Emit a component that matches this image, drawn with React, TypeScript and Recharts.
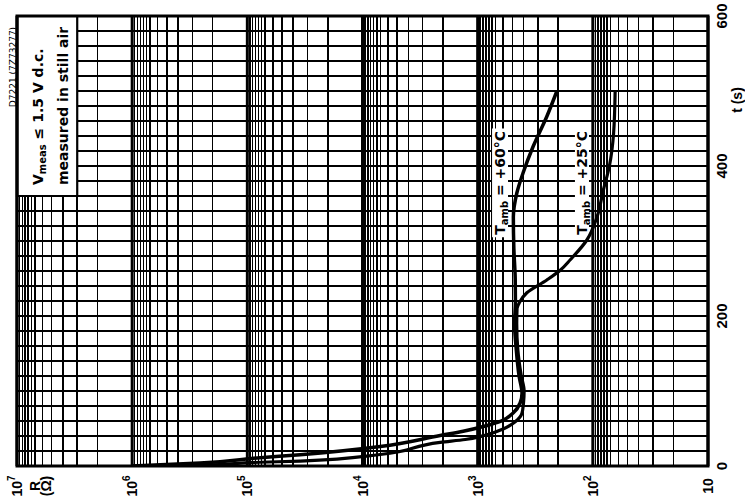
import React from 'react';
import {
  LineChart,
  Line,
  XAxis,
  YAxis,
  CartesianGrid,
  ReferenceArea,
  ReferenceLine,
} from 'recharts';

// ---- axis / grid definitions ----
const decadeValues = [10, 100, 1000, 10000, 100000, 1000000, 10000000];
const gridMantissas = [1, 2, 3, 4, 5, 6, 7, 7.5, 8, 8.5, 9, 9.5];
const timeGridTicks = [
  0, 20, 40, 60, 80, 100, 120, 140, 160, 180, 200, 220, 240, 260, 280, 300,
  320, 340, 360, 380, 400, 420, 440, 460, 480, 500, 520, 540, 560, 580, 600,
];
const timeLabelTicks = [0, 200, 400, 600];

// ---- curves: t (s) vs R (ohm) ----
const t60 = [0, 4, 11, 15, 26, 40.7, 46.3, 52.7, 60.3, 70.7, 84, 97, 120, 155, 190, 220, 250, 290, 332, 364, 391, 426, 466, 500];
const r60 = [1000000, 257000, 77300, 34800, 7020, 2115, 1336, 895, 619, 492, 428, 412, 437, 462, 478, 470, 472, 485, 490, 457, 403, 330, 251, 205];

const t25 = [0, 0.8, 5, 6.5, 15.3, 31.6, 35.3, 41, 49.3, 59, 70, 84, 100, 120, 155, 190, 210, 219, 231, 248, 261, 275, 301, 332, 368, 399, 444, 500];
const r25 = [1000000, 257000, 77300, 34800, 7020, 2115, 1283, 861, 601, 472, 413, 400, 395, 418, 448, 458, 455, 430, 374, 251, 192, 157, 113, 92, 81, 72, 66, 64];

const series60 = t60.map((t, i) => ({ t, R: r60[i] }));
const series25 = t25.map((t, i) => ({ t, R: r25[i] }));

const rGridTicks: number[] = [];
decadeValues.slice(0, 6).forEach((d) => {
  gridMantissas.forEach((m) => rGridTicks.push(Math.round(d * m * 10) / 10));
});
rGridTicks.push(10000000);

const NUM_FONT = "'Liberation Sans', Arial, sans-serif";
const TXT_FONT = "'DejaVu Sans', sans-serif";

const isDecade = (v: number) => {
  const e = Math.round(Math.log10(v));
  return Math.abs(v - Math.pow(10, e)) < 1e-6 * v;
};

const RTick = (props: any) => {
  const { x, y, payload } = props;
  const v = payload.value;
  if (!isDecade(v)) return <g />;
  const e = Math.round(Math.log10(v));
  const cy = y + 20;
  return (
    <text
      x={x}
      y={cy}
      transform={`rotate(-90 ${x} ${cy})`}
      textAnchor="middle"
      dominantBaseline="central"
      fontSize={14}
      fontWeight="bold"
      fontFamily={NUM_FONT}
      fill="#000"
    >
      10
      {e > 1 ? (
        <tspan dy={-6} fontSize={10}>
          {e}
        </tspan>
      ) : null}
    </text>
  );
};

const TTick = (props: any) => {
  const { x, y, payload } = props;
  if (!timeLabelTicks.includes(payload.value)) return <g />;
  const cx = x + 13;
  return (
    <text
      x={cx}
      y={y}
      transform={`rotate(-90 ${cx} ${y})`}
      textAnchor="middle"
      dominantBaseline="central"
      fontSize={15}
      fontWeight="bold"
      fontFamily={NUM_FONT}
      fill="#000"
    >
      {payload.value}
    </text>
  );
};

const LegendContent = (props: any) => {
  const { x, y, height } = props.viewBox;
  const by = y + height - 11;
  const l1 = x + 21;
  const l2 = x + 46;
  const dx = x - 4;
  const dy = y + 51;
  return (
    <g fill="#000" fontFamily={TXT_FONT}>
      <text x={l1} y={by} transform={`rotate(-90 ${l1} ${by})`} fontSize={14} fontWeight="bold" dominantBaseline="central">
        V<tspan fontSize={10} dy={4}>meas</tspan>
        <tspan dy={-4}> ≤ 1.5 V d.c.</tspan>
      </text>
      <text x={l2} y={by} transform={`rotate(-90 ${l2} ${by})`} fontSize={14} fontWeight="bold" dominantBaseline="central">
        measured in still air
      </text>
      <text x={dx} y={dy} transform={`rotate(-90 ${dx} ${dy})`} fontSize={9} textAnchor="middle" dominantBaseline="central">
        D7221 (7Z73277)
      </text>
    </g>
  );
};

const makeCurveLabel = (temp: string) => (props: any) => {
  const { x, y, width, height } = props.viewBox;
  const cx = x + width / 2;
  const cy = y + height / 2;
  return (
    <text
      x={cx}
      y={cy}
      transform={`rotate(-90 ${cx} ${cy})`}
      textAnchor="middle"
      dominantBaseline="central"
      fontSize={14}
      fontWeight="bold"
      fontFamily={TXT_FONT}
      fill="#000"
    >
      T<tspan fontSize={10} dy={4}>amb</tspan>
      <tspan dy={-4}> = +{temp}°C</tspan>
    </text>
  );
};

const FrameContent = (props: any) => {
  const { x, y, width, height } = props.viewBox;
  const tx = x + width + 29;
  const ty = y + 84;
  const ry = y + height + 20;
  const rx1 = 35;
  const rx2 = 46;
  return (
    <g fill="#000" fontFamily={NUM_FONT} fontSize={14} fontWeight="bold">
      <text x={tx} y={ty} transform={`rotate(-90 ${tx} ${ty})`} textAnchor="middle" dominantBaseline="central">
        t (s)
      </text>
      <text x={rx1} y={ry} transform={`rotate(-90 ${rx1} ${ry})`} textAnchor="middle" dominantBaseline="central">
        R
      </text>
      <text x={rx2} y={ry} transform={`rotate(-90 ${rx2} ${ry})`} textAnchor="middle" dominantBaseline="central">
        (Ω)
      </text>
    </g>
  );
};

export default function App() {
  return (
    <div style={{ position: 'absolute', left: 0, top: 0, width: 745, height: 503, background: '#fff' }}>
      <LineChart width={745} height={503} margin={{ top: 16, right: 0, bottom: 0, left: 17 }}>
        <CartesianGrid stroke="#000" strokeWidth={1.5} shapeRendering="crispEdges" />
        <XAxis
          type="number"
          dataKey="R"
          scale="log"
          domain={[10, 10000000]}
          reversed
          allowDataOverflow
          ticks={rGridTicks}
          interval={0}
          tickLine={false}
          axisLine={false}
          tickSize={0}
          tickMargin={0}
          height={37}
          tick={RTick}
        />
        <YAxis
          orientation="right"
          type="number"
          domain={[0, 600]}
          allowDataOverflow
          ticks={timeGridTicks}
          interval={0}
          tickLine={false}
          axisLine={false}
          tickSize={0}
          tickMargin={0}
          width={37}
          tick={TTick}
        />
        {decadeValues.map((d) => (
          <ReferenceLine key={d} x={d} stroke="#000" strokeWidth={3} />
        ))}
        <ReferenceArea
          x1={10000000}
          x2={3000000}
          y1={360}
          y2={600}
          fill="#fff"
          fillOpacity={1}
          stroke="#000"
          strokeWidth={2.2}
          label={LegendContent}
        />
        <ReferenceArea x1={750} x2={545} y1={305} y2={450} fill="#fff" fillOpacity={1} stroke="none" label={makeCurveLabel('60')} />
        <ReferenceArea x1={143} x2={108} y1={305} y2={450} fill="#fff" fillOpacity={1} stroke="none" label={makeCurveLabel('25')} />
        <Line data={series60} dataKey="t" type="monotoneY" stroke="#000" strokeWidth={3.5} dot={false} isAnimationActive={false} />
        <Line data={series25} dataKey="t" type="monotoneY" stroke="#000" strokeWidth={3.2} dot={false} isAnimationActive={false} />
        <ReferenceArea
          x1={10}
          x2={10000000}
          y1={0}
          y2={600}
          fill="none"
          fillOpacity={0}
          stroke="#000"
          strokeWidth={3}
          label={FrameContent}
        />
      </LineChart>
    </div>
  );
}
